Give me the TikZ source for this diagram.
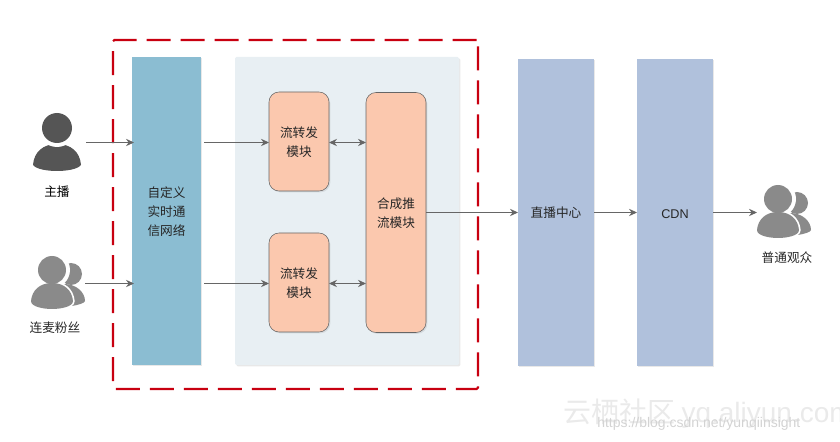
\documentclass[tikz,border=0pt]{standalone}
\usepackage{fontspec}
\setmainfont{Liberation Sans}
\newfontfamily\cjk{Noto Sans CJK SC}
\usepackage{xcolor}
\usetikzlibrary{arrows.meta,positioning,shadows}
\definecolor{barblue}{RGB}{139,189,210}
\definecolor{panelgrey}{RGB}{232,239,243}
\definecolor{modorange}{RGB}{251,200,174}
\definecolor{hubblue}{RGB}{176,193,220}
\definecolor{linegrey}{RGB}{102,102,102}
\definecolor{dashred}{RGB}{200,0,16}
\definecolor{hostgrey}{RGB}{85,85,85}
\definecolor{fangrey}{RGB}{138,138,138}
\definecolor{markgrey}{RGB}{234,234,234}

\tikzset{
  pics/host/.style = {code={
    \fill[hostgrey] (-24,23) .. controls (-23,10) and (-14,2) .. (0,2)
      .. controls (14,2) and (23,10) .. (24,23)
      .. controls (18,31) and (-18,31) .. cycle;
    \fill[white] (0,-14) circle (19);
    \fill[hostgrey] (0,-14) circle (15);
  }},
  pics/crowd/.style = {code={
    \fill[fangrey] (19,4) circle (11);
    \fill[fangrey] (12,14) .. controls (24,14) and (33,22) .. (33,31)
      .. controls (33,33) and (26,35) .. (20,36) -- (10,36) -- cycle;
    \fill[white] (0,0) circle (18);
    \draw[white, line width=2.5pt, fill=white] (-21,31) .. controls (-20,20) and (-12,13) .. (0,13)
      .. controls (12,13) and (20,20) .. (21,31)
      .. controls (21,37) and (8,39) .. (0,39)
      .. controls (-8,39) and (-21,37) .. cycle;
    \fill[fangrey] (-21,31) .. controls (-20,20) and (-12,13) .. (0,13)
      .. controls (12,13) and (20,20) .. (21,31)
      .. controls (21,37) and (8,39) .. (0,39)
      .. controls (-8,39) and (-21,37) .. cycle;
    \fill[fangrey] (0,0) circle (14);
  }}
}

\begin{document}
\begin{tikzpicture}[
  x=0.75pt, y=-0.75pt,
  soft/.style = {drop shadow={opacity=.18, shadow xshift=1pt, shadow yshift=-1pt}},
  txt/.style = {align=center, text=black!85, text depth=0pt, font=\cjk\fontsize{9.5}{14.25}\selectfont},
  Bar/.style = {txt, fill=barblue, soft, outer sep=0pt,
                minimum width=51.75pt, minimum height=231pt},
  Hub/.style = {txt, fill=hubblue, soft, outer sep=0pt,
                minimum width=57pt, minimum height=230.25pt},
  M/.style = {txt, draw=linegrey, fill=modorange, soft, rounded corners=7.5pt,
              outer sep=0pt, minimum width=45pt, minimum height=74.25pt},
  icon/.style = {outer sep=0pt, inner sep=0pt, minimum height=40pt},
  arr/.style = {-{Stealth[length=6pt,width=5.5pt]}, line width=0.75pt, color=linegrey},
  both/.style = {{Stealth[length=6pt,width=5.5pt]}-{Stealth[length=6pt,width=5.5pt]},
                 line width=0.75pt, color=linegrey}
]
\useasboundingbox (0,0) rectangle (840,442);

% watermark
\node[text=markgrey, font=\cjk\fontsize{21}{21}\selectfont, anchor=west, inner sep=0pt] (mark) at (563,414) {云栖社区 {\rmfamily yq.aliyun.com}};
\node[text=markgrey!90!black, font=\fontsize{10.5}{10.5}\selectfont, anchor=west, inner sep=0pt] (url) at (597,424) {https://blog.csdn.net/yunqiinsight};

% dashed frame and grey panel
\node[draw=dashred, line width=1.6pt, dash pattern=on 18pt off 7.5pt, rounded corners=1pt,
      minimum width=273.75pt, minimum height=261.75pt] (frame) at (295.5,214.5) {};
\node[fill=panelgrey, soft, rounded corners=1pt, minimum width=168pt, minimum height=231pt] (panel) at (347,211) {};

% senders
\pic at (57,142) {host};
\node[icon, minimum width=43.5pt] (anchor) at (57,142.5) {};
\node[txt, text=black] (anchorlbl) at (57,191) {主播};
\pic at (52,270) {crowd};
\node[icon, minimum width=42.75pt] (fans) at (56.5,283.5) {};
\node[txt] (fanslbl) at (55,327) {连麦粉丝};

% blocks
\node[Bar] (net) at (166.5,211) {自定义\\实时通\\信网络};
\node[M] (fwdA) at (299,141.5) {流转发\\模块};
\node[M] (fwdB) at (299,282.5) {流转发\\模块};
\node[M, minimum height=180pt] (mix) at (396,212.5) {合成推\\流模块};
\node[Hub] (hub) at (556,212.5) {直播中心};
\node[Hub, text height=9.5pt, font=\fontsize{9.5}{12}\selectfont] (cdn) at (675,212.5) {CDN};

% viewers
\pic at (778,199) {crowd};
\node[icon, minimum width=40.5pt] (viewers) at (784,212.5) {};
\node[txt] (viewerslbl) at (787,257) {普通观众};

% connectors
\draw[arr, shorten >=-1.5pt] (anchor.east) -- (anchor.east -| net.west);
\draw[arr, shorten >=-1.5pt] (fans.east) -- (fans.east -| net.west);
\draw[arr, shorten <=2.25pt] (anchor.east -| net.east) -- (anchor.east -| fwdA.west);
\draw[arr, shorten <=2.25pt] (fans.east -| net.east) -- (fans.east -| fwdB.west);
\draw[both] (anchor.east -| fwdA.east) -- (anchor.east -| mix.west);
\draw[both] (fans.east -| fwdB.east) -- (fans.east -| mix.west);
\draw[arr] (mix.east) -- (mix.east -| hub.west);
\draw[arr] (hub.east) -- (cdn.west);
\draw[arr] (cdn.east) -- (viewers.west);

\end{tikzpicture}
\end{document}
